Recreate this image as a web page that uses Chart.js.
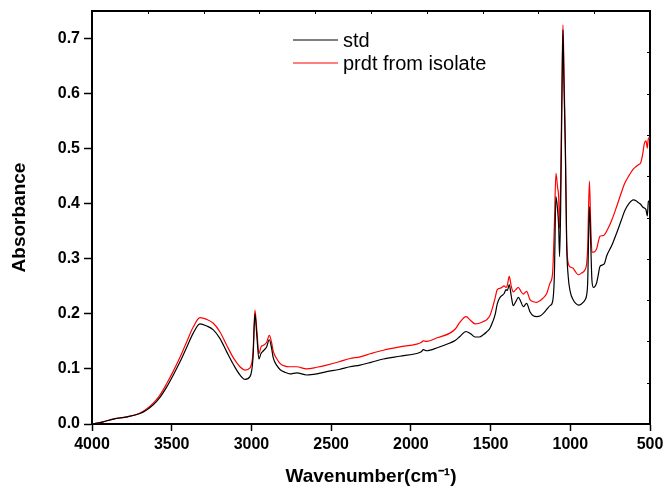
<!DOCTYPE html>
<html lang="en">
<head>
<meta charset="UTF-8">
<title>IR spectrum - std vs prdt from isolate</title>
<script src="https://cdn.jsdelivr.net/npm/chart.js@4"></script>
<style>
    html, body { margin: 0; padding: 0; background: #fff; }
    .chart_box { width: 665px; height: 488px; }
</style>
</head>
<body>
<div class="chart_box">
    <canvas id="irChart"></canvas>
</div>
<script>
// wavenumber (cm-1)
const wavenumbers = [
    4000, 3930, 3866, 3780, 3699, 3660, 3616, 3575, 3532, 3490,
    3448, 3405, 3365, 3323, 3280, 3239, 3197, 3155, 3113, 3072,
    3040, 3009, 2990, 2978, 2966, 2953, 2940, 2925, 2905, 2888,
    2875, 2863, 2840, 2821, 2790, 2758, 2716, 2653, 2590, 2528,
    2450, 2382, 2319, 2250, 2173, 2070, 1964, 1935, 1922, 1901,
    1830, 1755, 1720, 1692, 1654, 1625, 1598, 1570, 1546, 1525,
    1504, 1486, 1472, 1458, 1445, 1430, 1415, 1403, 1395, 1383,
    1370, 1358, 1342, 1326, 1310, 1295, 1274, 1253, 1230, 1211,
    1190, 1169, 1148, 1127, 1111, 1100, 1090, 1080, 1073, 1067,
    1060, 1052, 1046, 1040, 1031, 1023, 1013, 1000, 983, 966,
    950, 930, 908, 897, 891, 880, 872, 864, 855, 835,
    825, 814, 797, 785, 772, 740, 709, 680, 657, 630,
    605, 585, 573, 559, 546, 535, 525, 517, 510, 500
];

// absorbance of the standard (black)
const stdAbs = [
    0.000, 0.004, 0.009, 0.013, 0.019, 0.025, 0.035, 0.048, 0.067, 0.089,
    0.113, 0.140, 0.165, 0.182, 0.178, 0.171, 0.155, 0.131, 0.108, 0.089,
    0.081, 0.086, 0.120, 0.200, 0.160, 0.118, 0.128, 0.133, 0.140, 0.153,
    0.140, 0.120, 0.106, 0.099, 0.094, 0.091, 0.093, 0.089, 0.091, 0.095,
    0.099, 0.104, 0.107, 0.112, 0.118, 0.123, 0.128, 0.131, 0.135, 0.133,
    0.139, 0.147, 0.152, 0.159, 0.168, 0.164, 0.158, 0.158, 0.162, 0.167,
    0.174, 0.186, 0.198, 0.218, 0.228, 0.233, 0.237, 0.244, 0.242, 0.253,
    0.232, 0.215, 0.222, 0.230, 0.222, 0.213, 0.219, 0.204, 0.196, 0.195,
    0.196, 0.201, 0.208, 0.215, 0.222, 0.268, 0.413, 0.390, 0.360, 0.304,
    0.400, 0.600, 0.716, 0.620, 0.500, 0.329, 0.268, 0.240, 0.226, 0.219,
    0.216, 0.218, 0.225, 0.235, 0.256, 0.395, 0.330, 0.260, 0.248, 0.256,
    0.270, 0.286, 0.289, 0.292, 0.305, 0.324, 0.347, 0.370, 0.388, 0.401,
    0.407, 0.405, 0.402, 0.399, 0.394, 0.392, 0.389, 0.378, 0.404, 0.406
];

// absorbance of the product from isolate (red)
const isolateAbs = [
    0.000, 0.004, 0.009, 0.013, 0.020, 0.027, 0.038, 0.052, 0.073, 0.096,
    0.121, 0.150, 0.176, 0.193, 0.190, 0.183, 0.167, 0.143, 0.120, 0.104,
    0.098, 0.102, 0.130, 0.207, 0.170, 0.128, 0.140, 0.143, 0.148, 0.161,
    0.150, 0.132, 0.118, 0.110, 0.105, 0.104, 0.104, 0.100, 0.103, 0.107,
    0.113, 0.119, 0.122, 0.128, 0.134, 0.140, 0.145, 0.148, 0.151, 0.150,
    0.157, 0.165, 0.173, 0.185, 0.195, 0.188, 0.182, 0.183, 0.186, 0.189,
    0.197, 0.213, 0.228, 0.244, 0.246, 0.248, 0.251, 0.248, 0.252, 0.268,
    0.250, 0.240, 0.244, 0.248, 0.241, 0.236, 0.241, 0.226, 0.222, 0.221,
    0.224, 0.229, 0.237, 0.256, 0.274, 0.359, 0.455, 0.430, 0.413, 0.355,
    0.450, 0.620, 0.725, 0.650, 0.510, 0.340, 0.292, 0.285, 0.283, 0.276,
    0.271, 0.274, 0.280, 0.292, 0.320, 0.441, 0.365, 0.312, 0.312, 0.318,
    0.330, 0.341, 0.342, 0.344, 0.350, 0.370, 0.395, 0.420, 0.438, 0.452,
    0.463, 0.468, 0.471, 0.474, 0.490, 0.510, 0.514, 0.501, 0.519, 0.519
];

const seriesNames = ['std', 'prdt from isolate'];
const seriesColors = ['#000000', '#ff0000'];

// top and right frame: plain divisions with small inward ticks
const frameDivisions = [1, 2, 3, 4, 5, 6, 7, 8, 9];

const FONT = "'Liberation Sans', Arial, sans-serif";

function toPoints(values) {
    return wavenumbers.map((w, i) => ({ x: w, y: values[i] }));
}

// inward ticks on the top / right frame
const frameTicks = {
    id: 'frameTicks',
    afterDraw(chart) {
        const { ctx, chartArea: a, scales } = chart;
        ctx.save();
        ctx.strokeStyle = '#000';
        ctx.lineWidth = 1;
        frameDivisions.forEach(v => {
            const px = Math.round(scales.x2.getPixelForValue(v)) + 0.5;
            ctx.beginPath();
            ctx.moveTo(px, a.top);
            ctx.lineTo(px, a.top + 3);
            ctx.stroke();
            const py = Math.round(scales.y2.getPixelForValue(v)) + 0.5;
            ctx.beginPath();
            ctx.moveTo(a.right, py);
            ctx.lineTo(a.right - 3, py);
            ctx.stroke();
        });
        ctx.restore();
    }
};

// legend drawn inside the plot, like the original
const innerLegend = {
    id: 'innerLegend',
    afterDraw(chart) {
        const ctx = chart.ctx;
        const x0 = 293, y0 = 40, gap = 23;
        ctx.save();
        ctx.font = '20px ' + FONT;
        ctx.textBaseline = 'middle';
        ctx.textAlign = 'left';
        chart.data.datasets.forEach((ds, i) => {
            const y = y0 + i * gap;
            ctx.strokeStyle = ds.borderColor;
            ctx.lineWidth = 1.2;
            ctx.beginPath();
            ctx.moveTo(x0, y);
            ctx.lineTo(x0 + 45, y);
            ctx.stroke();
            ctx.fillStyle = '#000';
            ctx.fillText(ds.label, x0 + 50, y + 1);
        });
        ctx.restore();
    }
};

// keep the plot box where the original has it (labels may overhang)
function noEdgePadding(s) {
    s.paddingTop = 0;
    s.paddingBottom = 0;
    s.paddingLeft = 0;
    s.paddingRight = 0;
}

const ctx = document.getElementById('irChart').getContext('2d');
new Chart(ctx, {
    type: 'line',
    data: {
        datasets: [
            {
                label: seriesNames[0],
                data: toPoints(stdAbs),
                borderColor: seriesColors[0],
                borderWidth: 1.2,
                pointRadius: 0,
                cubicInterpolationMode: 'monotone',
                xAxisID: 'x',
                yAxisID: 'y'
            },
            {
                label: seriesNames[1],
                data: toPoints(isolateAbs),
                borderColor: seriesColors[1],
                borderWidth: 1.2,
                pointRadius: 0,
                cubicInterpolationMode: 'monotone',
                xAxisID: 'x',
                yAxisID: 'y'
            }
        ]
    },
    options: {
        responsive: true,
        maintainAspectRatio: false,
        animation: false,
        layout: { padding: { top: 11, right: 15, left: 0, bottom: 0 } },
        plugins: {
            legend: { display: false },
            tooltip: { enabled: false }
        },
        scales: {
            x: {
                type: 'linear',
                position: 'bottom',
                reverse: true,
                min: 500,
                max: 4000,
                ticks: {
                    stepSize: 500,
                    maxRotation: 0,
                    padding: 4,
                    color: '#000',
                    font: { family: FONT, size: 16, weight: 'bold' },
                    callback: v => String(v)
                },
                grid: { drawOnChartArea: false, drawTicks: true, tickLength: 7, tickColor: '#000', tickWidth: 1.5 },
                border: { display: true, color: '#000', width: 2 },
                title: {
                    display: true,
                    text: 'Wavenumber(cm\u207B\u00B9)',
                    color: '#000',
                    font: { family: FONT, size: 19, weight: 'bold' },
                    padding: { top: 0, bottom: 0 }
                },
                afterFit: s => { s.height = 64; noEdgePadding(s); }
            },
            y: {
                type: 'linear',
                position: 'left',
                min: 0,
                max: 0.75,
                ticks: {
                    stepSize: 0.1,
                    includeBounds: false,
                    padding: 4,
                    color: '#000',
                    font: { family: FONT, size: 16, weight: 'bold' },
                    callback: v => v.toFixed(1)
                },
                grid: { drawOnChartArea: false, drawTicks: true, tickLength: 8, tickColor: '#000', tickWidth: 1.5 },
                border: { display: true, color: '#000', width: 2 },
                title: {
                    display: true,
                    text: 'Absorbance',
                    color: '#000',
                    font: { family: FONT, size: 19, weight: 'bold' },
                    padding: { top: 8, bottom: 0 }
                },
                afterFit: s => { s.width = 92; noEdgePadding(s); }
            },
            x2: {
                type: 'linear',
                position: 'top',
                min: 0,
                max: 10,
                ticks: { display: false },
                grid: { drawOnChartArea: false, drawTicks: false },
                border: { display: true, color: '#000', width: 2 },
                afterFit: s => { s.height = 0; noEdgePadding(s); }
            },
            y2: {
                type: 'linear',
                position: 'right',
                min: 0,
                max: 10,
                ticks: { display: false },
                grid: { drawOnChartArea: false, drawTicks: false },
                border: { display: true, color: '#000', width: 2 },
                afterFit: s => { s.width = 0; noEdgePadding(s); }
            }
        }
    },
    plugins: [frameTicks, innerLegend]
});
</script>
</body>
</html>
